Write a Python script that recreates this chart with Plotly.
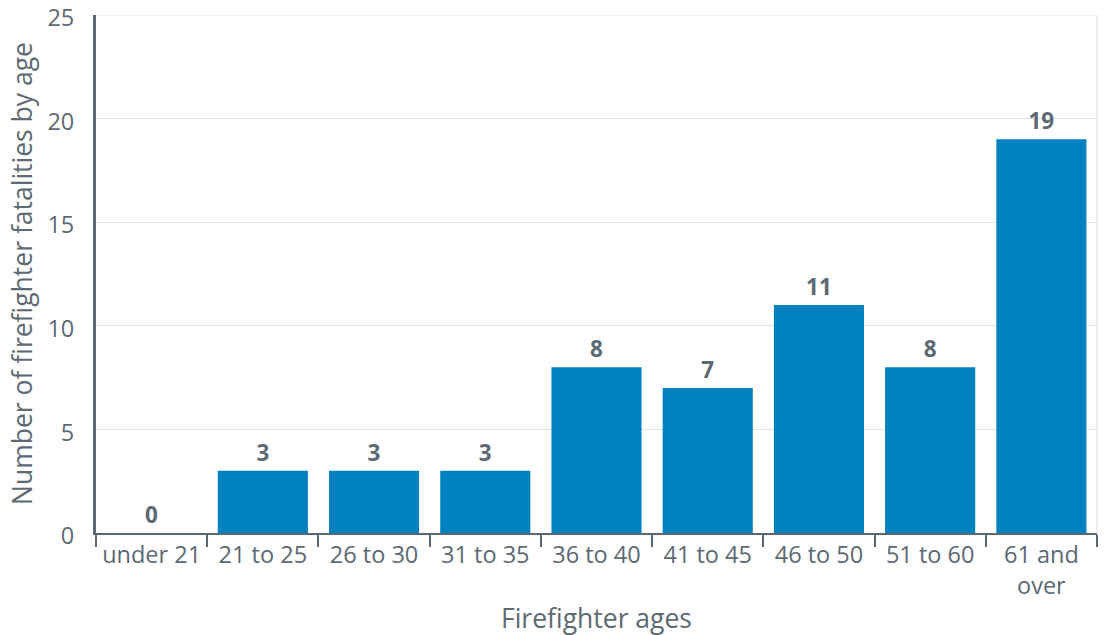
import plotly.graph_objects as go

categories = ["under 21", "21 to 25", "26 to 30", "31 to 35", "36 to 40",
              "41 to 45", "46 to 50", "51 to 60", "61 and<br>over"]
fatalities = [0, 3, 3, 3, 8, 7, 11, 8, 19]
y_ticks = [0, 5, 10, 15, 20, 25]
x_title = "Firefighter ages"
y_title = "Number of firefighter fatalities by age"

text_color = "#5d6973"
axis_color = "#5b6771"
grid_color = "#dfe4e7"
bar_color = "#0082c0"
font_family = "Open Sans"

fig = go.Figure()
fig.add_trace(go.Bar(
    x=categories, y=fatalities,
    marker=dict(color=bar_color, line=dict(width=0)),
    text=[str(v) for v in fatalities],
    textposition="outside",
    textfont=dict(family=font_family, size=22.5, color=text_color, weight="bold"),
    cliponaxis=False,
))

fig.update_layout(
    width=1105, height=635,
    margin=dict(l=96, r=8, t=15, b=102, autoexpand=False),
    paper_bgcolor="white", plot_bgcolor="white",
    font=dict(family=font_family, color=text_color),
    bargap=0.19,
    showlegend=False,
    xaxis=dict(
        type="category", automargin=False,
        tickson="boundaries", ticks="outside", ticklen=12, tickwidth=2, tickcolor=axis_color,
        showline=True, linecolor=axis_color, linewidth=2,
        showgrid=False,
        tickfont=dict(size=23.5, color=text_color),
    ),
    yaxis=dict(
        range=[0, 25], tickvals=y_ticks, automargin=False,
        showline=True, linecolor=axis_color, linewidth=3,
        showgrid=True, gridcolor=grid_color, gridwidth=1,
        zeroline=False, ticklabeloverflow="allow", ticklabelshift=3,
        ticks="", ticklabelstandoff=14,
        tickfont=dict(size=23.5, color=text_color),
    ),
    annotations=[
        dict(text=x_title, xref="paper", yref="paper", x=0.5, y=0, yshift=-(618 - 533),
             xanchor="center", yanchor="middle", showarrow=False,
             font=dict(size=26.5, color=text_color, family=font_family)),
        dict(text=y_title, xref="paper", yref="paper", x=0, xshift=-(96 - 22), y=0.5,
             xanchor="center", yanchor="middle", textangle=-90, showarrow=False,
             font=dict(size=26.5, color=text_color, family=font_family)),
    ],
)
fig.add_shape(type="line", xref="paper", yref="paper", x0=1, x1=1, y0=0, y1=1,
              line=dict(color=grid_color, width=1), layer="below")
fig.add_shape(type="line", xref="paper", yref="y", x0=0, x1=1, y0=y_ticks[-1], y1=y_ticks[-1],
              line=dict(color=grid_color, width=1), layer="below")

fig.write_html("out.html")
